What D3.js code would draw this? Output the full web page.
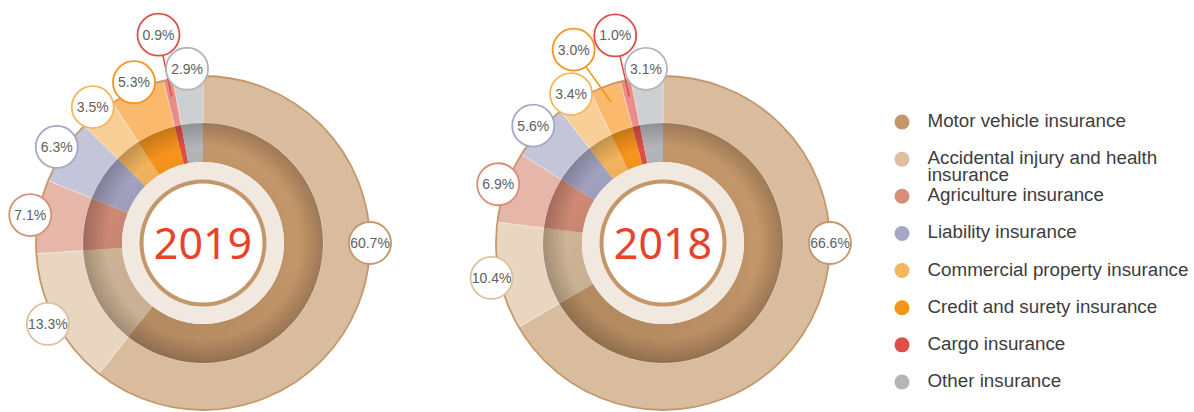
<!DOCTYPE html>
<html>
<head>
<meta charset="utf-8">
<style>
    body { margin: 0; background: #fff; }
    text { font-family: "Liberation Sans", Arial, sans-serif; }
</style>
</head>
<body>
<svg id="chart" width="1194" height="412"></svg>
<script src="https://cdn.jsdelivr.net/npm/d3@7"></script>
<script>
// data (shares in %)
const categories = [
    "Motor vehicle insurance",
    "Accidental injury and health insurance",
    "Agriculture insurance",
    "Liability insurance",
    "Commercial property insurance",
    "Credit and surety insurance",
    "Cargo insurance",
    "Other insurance"
];
const years = ["2019", "2018"];
const share2019 = [60.7, 13.3, 7.1, 6.3, 3.5, 5.3, 0.9, 2.9];
const share2018 = [66.6, 10.4, 6.9, 5.6, 3.4, 3.0, 1.0, 3.1];

const color = d3.scaleOrdinal(categories,
    ["#c4976a", "#dcc0a0", "#d88f7a", "#a6a6c5", "#f5b65e", "#f7941d", "#de4f46", "#b4b5b8"]);

const svg = d3.select("#chart");

// geometry
const R = 167, ringOuter = 120, ringInner = 81, beigeInner = 63.5, tanInner = 59.5;
const labelR = 21, labelDist = 175, calloutDist = 213, leaderEnd = 150;

// chart centers on a point scale so both donuts share one layout
const xPos = d3.scalePoint().domain(years).range([203, 663]);
const cy = 243;

const defs = svg.append("defs");
let shade = defs.append("radialGradient")
    .attr("id", "shade")
    .attr("gradientUnits", "userSpaceOnUse")
    .attr("cx", 0).attr("cy", 0).attr("r", ringOuter);
shade.append("stop").attr("offset", ringInner / ringOuter).attr("stop-color", "#000").attr("stop-opacity", 0.02);
shade.append("stop").attr("offset", 0.8).attr("stop-color", "#000").attr("stop-opacity", 0);
shade.append("stop").attr("offset", 0.84).attr("stop-color", "#000").attr("stop-opacity", 0.04);
shade.append("stop").attr("offset", 1).attr("stop-color", "#000").attr("stop-opacity", 0.2);

let side = defs.append("linearGradient")
    .attr("id", "side")
    .attr("x1", 0).attr("y1", 1).attr("x2", 0.6).attr("y2", 0.3);
side.append("stop").attr("offset", 0).attr("stop-color", "#000").attr("stop-opacity", 0.12);
side.append("stop").attr("offset", 1).attr("stop-color", "#000").attr("stop-opacity", 0);

const pie = d3.pie().sort(null).value(d => d.value);
const outerArc = d3.arc().innerRadius(ringOuter).outerRadius(R);
const innerArc = d3.arc().innerRadius(ringInner).outerRadius(ringOuter);
const fullRing = d3.arc().innerRadius(ringInner).outerRadius(ringOuter)({ startAngle: 0, endAngle: 2 * Math.PI });

function polar(a, r) {
    return [Math.sin(a) * r, -Math.cos(a) * r];
}

// put each label at its slice, push colliding ones outward and spread them apart
function layoutLabels(arcs) {
    const minAngle = 4 * Math.PI / 3;
    const maxVal = d3.max(arcs, d => d.data.value);
    let labels = arcs.map(d => {
        let mid = (d.startAngle + d.endAngle) / 2;
        return { arc: d, mid: mid, angle: mid, r: labelDist, callout: false };
    });
    let placed = [];
    labels.slice().sort((a, b) => b.arc.data.value - a.arc.data.value).forEach(l => {
        if (l.arc.data.value === maxVal) {
            l.angle = Math.PI / 2; // biggest share sits on the rim at 3 o'clock
            l.r = R;
        } else {
            l.angle = Math.max(l.mid, minAngle);
            let p = polar(l.angle, l.r);
            let hit = placed.some(o => {
                let q = polar(o.angle, o.r);
                return Math.hypot(p[0] - q[0], p[1] - q[1]) < 2 * labelR + 2;
            });
            if (hit) {
                l.r = calloutDist;
                l.callout = true;
            }
        }
        placed.push(l);
    });
    let outs = labels.filter(l => l.callout).sort((a, b) => a.angle - b.angle);
    let minSep = (2 * labelR + 2) / calloutDist;
    for (let i = outs.length - 2; i >= 0; i--) {
        if (outs[i + 1].angle - outs[i].angle < minSep) outs[i].angle = outs[i + 1].angle - minSep;
    }
    return labels;
}

const fmt = d3.format(".1f");

[share2019, share2018].forEach((shares, yi) => {
    let data = categories.map((c, i) => ({ name: c, value: shares[i] }));
    let arcs = pie(data);
    let g = svg.append("g").attr("transform", `translate(${xPos(years[yi])},${cy})`);

    // outer light ring
    g.selectAll("path.outer")
        .data(arcs)
        .join("path")
        .attr("class", "outer")
        .attr("d", outerArc)
        .attr("fill", d => color(d.data.name))
        .attr("fill-opacity", 0.65)
        .attr("stroke", "#fff")
        .attr("stroke-opacity", 0.6)
        .attr("stroke-width", 0.6);

    g.append("circle")
        .attr("r", R)
        .attr("fill", "none")
        .attr("stroke", "#c4976a")
        .attr("stroke-width", 1.8);

    // inner saturated ring with shading
    g.selectAll("path.inner")
        .data(arcs)
        .join("path")
        .attr("class", "inner")
        .attr("d", innerArc)
        .attr("fill", d => color(d.data.name));

    g.append("path").attr("d", fullRing).attr("fill", "url(#shade)");
    g.append("path").attr("d", fullRing).attr("fill", "url(#side)");

    // center
    g.append("circle").attr("r", ringInner).attr("fill", "#f1e8df");
    g.append("circle").attr("r", beigeInner).attr("fill", "#c4976a");
    g.append("circle").attr("r", tanInner).attr("fill", "#fff");
    g.append("text")
        .attr("text-anchor", "middle")
        .attr("y", 15.5)
        .style("font-family", "'Noto Sans', 'Open Sans', sans-serif")
        .style("font-size", "43px")
        .attr("fill", "#e8432a")
        .text(years[yi]);

    // percentage labels
    let labels = layoutLabels(arcs);
    let lg = g.selectAll("g.label")
        .data(labels)
        .join("g")
        .attr("class", "label");

    lg.filter(d => d.callout).append("line")
        .attr("x1", d => polar(d.angle, d.r)[0])
        .attr("y1", d => polar(d.angle, d.r)[1])
        .attr("x2", d => polar(d.mid, leaderEnd)[0])
        .attr("y2", d => polar(d.mid, leaderEnd)[1])
        .attr("stroke", d => color(d.arc.data.name))
        .attr("stroke-width", 1.6);

    lg.append("circle")
        .attr("cx", d => polar(d.angle, d.r)[0])
        .attr("cy", d => polar(d.angle, d.r)[1])
        .attr("r", labelR)
        .attr("fill", "#fff")
        .attr("stroke", d => color(d.arc.data.name))
        .attr("stroke-width", 1.8);

    lg.append("text")
        .attr("x", d => polar(d.angle, d.r)[0])
        .attr("y", d => polar(d.angle, d.r)[1])
        .attr("dy", "0.36em")
        .attr("text-anchor", "middle")
        .style("font-size", "14px")
        .attr("fill", "#606060")
        .text(d => fmt(d.arc.data.value) + "%");
});

// legend
const legendY = d3.scalePoint().domain(categories).range([122, 382]);
let legend = svg.append("g").attr("class", "legend");
let items = legend.selectAll("g")
    .data(categories)
    .join("g")
    .attr("transform", d => `translate(0,${legendY(d)})`);

items.append("circle")
    .attr("cx", 902)
    .attr("r", 7.5)
    .attr("fill", d => color(d));

items.append("text")
    .attr("x", 927.5)
    .attr("y", 5)
    .style("font-size", "18.8px")
    .attr("fill", "#3d3d3d")
    .each(function(d) {
        // wrap long names onto a second line
        let el = d3.select(this);
        let words = d.split(" ");
        let line = [];
        let tspan = el.append("tspan").attr("x", 927.5);
        words.forEach(w => {
            line.push(w);
            tspan.text(line.join(" "));
            if (tspan.node().getComputedTextLength() > 275 && line.length > 1) {
                line.pop();
                tspan.text(line.join(" "));
                line = [w];
                tspan = el.append("tspan").attr("x", 927.5).attr("dy", 17).text(w);
            }
        });
    });
</script>
</body>
</html>
